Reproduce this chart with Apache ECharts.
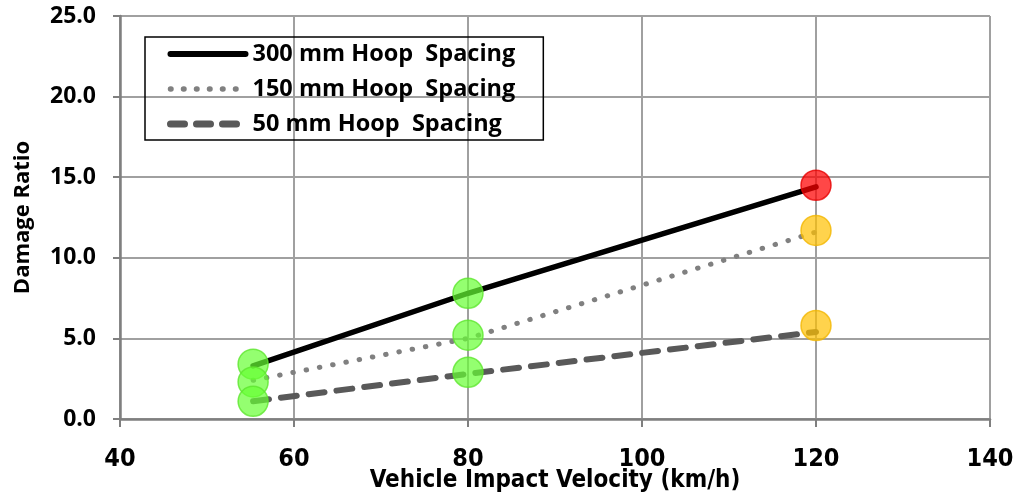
<!DOCTYPE html>
<html>
<head>
<meta charset="utf-8">
<script src="https://cdn.jsdelivr.net/npm/echarts@6/dist/echarts.min.js"></script>
<style>html,body{margin:0;padding:0;background:#fff;overflow:hidden}#c{width:1018px;height:499px}</style>
</head>
<body>
<div id="c"></div>
<script>
const velocities = [55.3, 80, 120];
const seriesNames = ['300 mm Hoop  Spacing', '150 mm Hoop  Spacing', '50 mm Hoop  Spacing'];
const line300 = [3.3, 7.8, 14.4];
const line150 = [2.4, 5.0, 11.6];
const line50 = [1.1, 2.8, 5.4];
const marker300 = [3.4, 7.8, 14.5];
const marker150 = [2.3, 5.2, 11.7];
const marker50 = [1.1, 2.9, 5.8];
const markerLevels = [['g','g','r'],['g','g','y'],['g','g','y']];
const xTicks = [40, 60, 80, 100, 120, 140];
const yTicks = [0, 5, 10, 15, 20, 25];

const levelColors = {
  g: {fill: 'rgba(102,255,51,0.88)', border: '#5ee62e'},
  y: {fill: 'rgba(255,192,0,0.88)', border: '#f2b600'},
  r: {fill: 'rgba(255,0,0,0.9)', border: '#e60000'}
};
const pair = (xs, ys) => xs.map((x, i) => [x, ys[i]]);
const lineStyles = [
  {color: '#000000', width: 5.5, type: 'solid', cap: 'round'},
  {color: '#808080', width: 5, type: [0.5, 13], cap: 'round'},
  {color: '#595959', width: 6, type: [16, 12], cap: 'round'}
];
const legendLineStyles = [
  {color: '#000000', width: 6, type: 'solid', cap: 'round'},
  {color: '#808080', width: 5.5, type: [0.5, 12.5], cap: 'round'},
  {color: '#595959', width: 7, type: [14, 12], cap: 'round'}
];
const lines = [line300, line150, line50];
const markers = [marker300, marker150, marker50];

const series = [];
lines.forEach((vals, i) => {
  series.push({
    name: seriesNames[i], type: 'line', data: pair(velocities, vals),
    symbol: 'none', lineStyle: lineStyles[i], itemStyle: {color: lineStyles[i].color},
    z: 2, silent: true
  });
});
markers.forEach((vals, i) => {
  series.push({
    type: 'scatter', z: 3, symbolSize: 30,
    data: vals.map((v, j) => ({
      value: [velocities[j], v],
      itemStyle: {color: levelColors[markerLevels[i][j]].fill, borderColor: levelColors[markerLevels[i][j]].border, borderWidth: 1.5}
    })),
    itemStyle: {
      decal: {symbol: 'rect', symbolSize: 1, dashArrayX: [1, 2], dashArrayY: [1, 2], color: 'rgba(255,255,255,0.25)'}
    }
  });
});

const chart = echarts.init(document.getElementById('c'), null, {renderer: 'canvas', width: 1018, height: 499});
chart.setOption({
  animation: false,
  backgroundColor: '#fff',
  grid: {left: 120, right: 28, top: 16, bottom: 80, containLabel: false, outerBoundsMode: 'none'},
  legend: {
    orient: 'vertical', left: 145, top: 37,
    data: seriesNames.map((n, i) => ({name: n, itemStyle: {opacity: 0}, lineStyle: legendLineStyles[i]})),
    itemWidth: 75, itemHeight: 14, itemGap: 11,
    padding: [5, 28, 4, 22],
    borderColor: '#000', borderWidth: 1.5,
    textStyle: {fontFamily: 'Open Sans', fontWeight: 'bold', fontSize: 23.5, color: '#000', padding: [0, 0, 0, 2]}
  },
  xAxis: {
    type: 'value', min: xTicks[0], max: xTicks[xTicks.length - 1], interval: 20,
    name: 'Vehicle Impact Velocity (km/h)', nameLocation: 'middle', nameGap: 50, nameMoveOverlap: false,
    nameTextStyle: {fontFamily: "'DejaVu Sans Condensed', 'Liberation Sans', sans-serif", fontWeight: 'bold', fontSize: 24, color: '#000'},
    axisLine: {show: true, lineStyle: {color: '#7f7f7f', width: 2.5}},
    axisTick: {show: true, length: 8, lineStyle: {color: '#7f7f7f', width: 2}},
    axisLabel: {margin: 28, fontFamily: "'DejaVu Sans Condensed', 'Liberation Sans', sans-serif", fontWeight: 'bold', fontSize: 25, color: '#000'},
    splitLine: {show: true, lineStyle: {color: '#a0a0a0', width: 2}}
  },
  yAxis: {
    type: 'value', min: yTicks[0], max: yTicks[yTicks.length - 1], interval: 5,
    name: 'Damage Ratio', nameLocation: 'middle', nameGap: 86, nameRotate: 90, nameMoveOverlap: false,
    nameTextStyle: {fontFamily: 'Open Sans', fontWeight: 'bold', fontSize: 22, color: '#000'},
    axisLine: {show: true, lineStyle: {color: '#7f7f7f', width: 2.5}},
    axisTick: {show: true, length: 7, lineStyle: {color: '#7f7f7f', width: 2}},
    axisLabel: {margin: 24, fontFamily: 'Open Sans', fontWeight: 'bold', fontSize: 23, color: '#000',
      formatter: v => v.toFixed(1)},
    splitLine: {show: true, lineStyle: {color: '#a0a0a0', width: 2}}
  },
  series: series
});
</script>
</body>
</html>
